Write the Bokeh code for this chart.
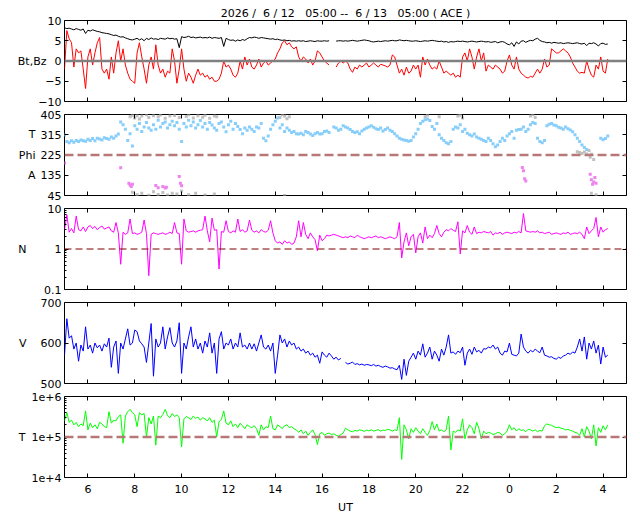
import numpy as np
from bokeh.plotting import figure
from bokeh.layouts import column
from bokeh.models import (Range1d, FixedTicker, LinearAxis, LogAxis, Span,
                          BasicTickFormatter, CustomJSTickFormatter)
from bokeh.embed import file_html
from bokeh.resources import INLINE

nan = float("nan")

# ---------------- data (0.1 h samples from 05:00 UT) ----------------
bt = [
 8.2, 8.0, 8.1, 7.9, 7.7, 8.0, 7.8, 7.6, 7.9, 6.8,
 7.6, 7.4, 7.7, 7.5, 7.3, 7.2, 7.0, 6.9, 6.8, 6.7,
 6.5, 6.3, 6.4, 6.1, 5.9, 6.0, 5.7, 5.5, 5.3, 5.2,
 5.4, 5.6, 5.2, 5.5, 5.0, 5.6, 5.3, 5.7, 5.4, 5.5,
 5.3, 5.6, 5.5, 5.4, 5.7, 5.5, 5.6, 5.4, 5.5, 3.3,
 6.0, 5.8, 5.9, 6.1, 5.8, 5.9, 5.7, 5.8, 5.9, 5.7,
 5.8, 5.7, 5.9, 5.6, 5.8, 5.7, 5.6, 5.8, 3.6, 5.6,
 5.3, 5.1, 5.2, 4.9, 5.2, 5.0, 5.3, 5.1, 5.5, 5.8,
 5.7, 5.9, 5.8, 5.6, 5.8, 5.7, 5.6, 5.5, 5.4, 5.5,
 5.3, 5.4, 5.2, 5.1, 5.2, 5.0, 5.1, 4.9, 5.0, 4.9,
 5.0, 4.9, 5.0, 4.8, 4.9, 5.0, 4.9, 4.8, 5.0, 4.9,
 4.9, 5.0, 4.9, 5.0, nan, nan, 4.9, 5.0, 5.0, 4.9,
 5.0, 4.9, 5.0, 5.1, 5.0, 4.9, 5.0, 5.1, 5.2, 5.1,
 5.0, 4.8, 4.7, 4.8, 4.9, 4.8, 4.9, 5.0, 4.9, 5.0,
 5.1, 5.0, 5.0, 5.2, 5.1, 5.0, 5.1, 5.0, 4.9, 4.9,
 5.0, 4.9, 4.8, 4.9, 5.0, 4.9, 5.0, 5.1, 5.0, 4.9,
 4.8, 4.9, 4.7, 4.8, 4.6, 4.8, 4.7, 4.8, 4.9, 4.8,
 4.9, 4.8, 4.7, 4.8, 4.9, 4.8, 4.7, 4.8, 4.9, 4.8,
 4.7, 4.8, 4.6, 4.7, 4.8, 4.5, 4.7, 4.8, 4.6, 4.2,
 4.0, 4.5, 3.6, 4.7, 4.2, 4.9, 5.0, 4.6, 4.9, 5.1,
 5.0, 5.4, 5.6, 5.1, 4.8, 4.7, 4.5, 4.6, 4.4, 4.6,
 4.5, 4.4, 4.5, 4.3, 4.4, 4.5, 4.4, 4.3, 4.4, 4.5,
 4.3, 4.2, 4.4, 3.8, 4.4, 4.3, 4.5, 4.2, 3.7, 4.3,
 4.4, 4.1, 4.2,
]

bz = [
 -2, 7.5, 5.5, 4.5, -1.5, 3, 2, 2.5, -2, -6.8,
 1, 3, -1, 2, 4.5, 5.8, -2, -3, -2, -4.5,
 1, -3, 2, 5, 0, 3, -1, -3, -4.5, -5,
 -5.5, 2, 4.5, 1, -2, -5.5, -1, 1, -2, 4,
 -1, -3, -2, -4, -2.5, -3, 3, 0, -5.5, -2,
 3, -2, -5, -3, -4, -5.5, -3.5, -2, -3.5, -3,
 -4, -3.5, -4.5, -4, -5, -5, -4.5, -3, 0, -1.5,
 -1, -2, -3.5, -4, -3, 0, -2, 1, -1, 0.5,
 -1.5, -2, -1, 0.5, -1.5, -0.5, 0, -1, -0.5, 0,
 0.5, 2, 3, 4.5, 5, 4, 4.5, 3.5, 3, 3.5,
 1, 0, 1, 0.5, -0.5, 0.5, -1, 0, 2.5, 2,
 1, 0, -0.5, -1, nan, nan, -1.5, -0.5, 0, -0.5,
 0, -0.5, -2, -2.8, -1.5, -2, -1, -1.5, -1, -0.5,
 -1.5, -1, -0.5, -1, -1.5, -0.8, -1, -1.2, -1.5, -1,
 1.5, 1, -1, -3, -2, -3.5, -1.5, -3, -2.5, -1,
 -2, -1, -4, 1, -1, 0.5, -1, -2, -1.5, -2,
 0, -1.5, -3, -2.5, -3, -3.5, -3, -4, -3.5, -4,
 1, 2, 0, 3, 1, -2, 1, 3, 0, 2,
 -2.5, -1, -1.5, -2, -1, -1.5, -2, -3, -2.5, 0,
 1.5, -1, -2, 1, -2, -3, -3.5, -4, -4.2, -3.8,
 -4, -3, -2, -3, -2, 0.5, -1.5, -1, 3, 2.5,
 2, 2, 2.5, 3, 2.5, 2, 1, -0.5, -1.5, -2.5,
 -3, -2.8, -3, 0, -2, -3.5, -4, -1, -2, 1,
 -2.5, -3, 0.5,
]

theta = [
 314, 285, 280, 288, 282, 290, 285, 292, 288, 286,
 295, 290, 298, 288, 300, 296, 292, 302, 298, 295,
 305, 300, 310, 318, 372, 360, 340, 290, 320, 265,
 355, 340, 365, 330, 350, 370, 345, 335, 360, 340,
 380, 350, 365, 372, 345, 360, 375, 355, 370, 340,
 285, 365, 350, 380, 355, 372, 345, 360, 378, 350,
 365, 340, 370, 358, 345, 335, 365, 372, 350, 328,
 360, 375, 340, 365, 352, 338, 320, 345, 335, 350,
 340, 330, 350, 345, 365, 300, 288, 310, 340, 360,
 375, 390, 345, 360, 330, 345, 335, 325, 330, 320,
 318, 322, 315, 330, 325, 318, 312, 320, 325, 318,
 320, 330, 332, 325, nan, 350, 345, 335, 340, 355,
 350, 345, 338, 330, 325, 328, 320, 332, 340, 345,
 350, 355, 348, 342, 338, 345, 332, 338, 345, 335,
 330, 320, 310, 300, 295, 292, 290, 286, 290, 305,
 320, 340, 365, 375, 382, 385, 378, 352, 340, 365,
 315, 300, 290, 280, 275, 285, 340, 350, 345, 360,
 330, 340, 322, 315, 310, 318, 305, 300, 295, 290,
 285, 300, 290, 275, 262, 270, 285, 300, 290, 310,
 320, 330, 300, 335, 338, 340, 350, 330, 340, 360,
 370, 365, 300, 285, 280, 290, 355, 362, 365, 358,
 355, 348, 345, 340, 350, 342, 336, 328, 315, 300,
 285, 270, 258, 250, nan, nan, nan, nan, nan, 300,
 293, 298, 310,
]

gray_t = [7.8, 7.9, 8.0, 8.1, 8.2, 8.3, 8.5, 8.6, 8.8, 9.0, 9.1, 9.3, 9.5, 9.7, 9.9,
          10.2, 10.3, 10.5, 10.7, 10.9, 11.0, 11.2, 11.4, 11.5, 14.2, 14.3, 14.4, 14.5,
          14.6, 20.4, 20.5, 21.0, 21.8, 21.9, 22.0, 24.9, 25.0, 25.1,
          7.9, 8.1, 8.3, 8.6, 8.8, 9.0, 9.2, 9.4, 9.6, 9.8, 10.0, 10.3, 10.6, 11.0,
          11.4, 14.4, 27.5, 27.7,
          26.9, 27.0, 27.1, 27.2, 27.3, 27.4, 27.5, 27.45, 27.6]
gray_v = [395, 402, 390, 400, 385, 398, 404, 392, 400, 395, 403, 388, 398, 401, 392,
          396, 404, 390, 400, 393, 402, 388, 398, 395, 392, 404, 398, 386,
          395, 395, 402, 395, 398, 403, 390, 398, 405, 392,
          60, 48, 55, 46, 62, 50, 58, 47, 55, 52, 65, 48, 55, 47,
          52, 45, 55, 48,
          240, 236, 232, 238, 230, 245, 228, 215, 205]

mag_t = [5.0, 7.4, 7.75, 7.8, 7.85, 7.9, 8.9, 9.0, 9.2, 9.3, 9.35, 9.9, 9.95, 10.0,
         24.55, 24.6, 24.65, 24.7, 27.45, 27.5, 27.55, 27.6, 27.65, 27.7]
mag_v = [190, 168, 100, 92, 85, 95, 90, 80, 85, 78, 82, 130, 100, 88,
         170, 155, 120, 110, 140, 115, 95, 105, 125, 100]

dens = [
 3.0, 7.0, 2.6, 3.2, 2.5, 6.5, 3.0, 2.8, 3.5, 2.7,
 3.5, 3.8, 3.2, 3.6, 3.0, 3.4, 3.7, 3.1, 3.3, 3.5,
 2.8, 2.6, 4.5, 2.5, 0.42, 2.6, 2.3, 2.5, 5.5, 2.4,
 2.5, 2.3, 2.4, 2.6, 5.2, 2.4, 0.22, 2.3, 2.5, 2.4,
 2.3, 2.4, 2.5, 2.3, 2.4, 2.6, 2.4, 4.5, 2.5, 2.4,
 0.42, 5.5, 2.8, 2.6, 2.7, 2.8, 2.6, 2.8, 2.9, 3.0,
 6.5, 2.8, 1.5, 5.8, 2.9, 3.0, 0.32, 2.7, 2.6, 5.0,
 2.7, 2.5, 2.8, 2.6, 5.5, 2.7, 3.0, 2.6, 2.8, 5.2,
 2.9, 2.6, 2.8, 2.5, 3.0, 2.7, 2.6, 2.9, 5.0, 2.5,
 1.6, 1.4, 1.5, 1.3, 1.6, 1.4, 1.5, 1.3, 1.4, 2.0,
 5.0, 2.0, 4.5, 2.3, 1.8, 2.5, 2.0, 1.7, 0.9, 2.2,
 1.6, 1.8, 2.2, 2.1, 2.2, 2.3, 2.2, 2.1, 2.0, 1.9,
 2.0, 1.9, 2.1, 2.0, 1.9, 2.2, 2.0, 1.9, 1.8, 1.9,
 2.0, 1.9, 2.0, 2.1, 1.9, 2.0, 1.9, 1.8, 1.9, 2.0,
 1.9, 1.8, 2.0, 4.5, 0.6, 1.5, 2.5, 1.2, 2.0, 2.3,
 0.8, 2.0, 2.5, 1.4, 3.5, 1.8, 2.2, 1.9, 2.4, 3.8,
 2.4, 2.0, 2.6, 3.0, 2.8, 3.2, 2.9, 2.7, 4.7, 0.75,
 2.8, 2.5, 3.8, 2.6, 2.3, 3.5, 2.4, 2.6, 2.5, 2.7,
 2.6, 2.5, 2.7, 2.2, 2.5, 2.4, 2.6, 2.3, 2.5, 2.6,
 2.5, 2.4, 2.6, 2.5, 2.7, 2.5, 7.5, 2.8, 2.7, 2.6,
 2.7, 2.6, 2.8, 2.5, 2.6, 2.4, 2.5, 2.6, 2.3, 2.4,
 2.5, 2.4, 2.3, 2.5, 2.4, 2.6, 2.3, 2.4, 2.5, 2.4,
 2.6, 2.3, 1.8, 3.5, 2.4, 2.8, 3.2, 6.0, 2.0, 3.5,
 2.6, 3.0, 3.2,
]

speed = [
 570, 660, 612, 618, 585, 600, 555, 595, 580, 640,
 585, 595, 575, 600, 588, 595, 580, 598, 590, 612,
 540, 590, 605, 525, 600, 585, 610, 635, 595, 600,
 632, 628, 605, 598, 590, 552, 600, 648, 518, 610,
 590, 600, 640, 585, 615, 638, 600, 590, 605, 650,
 525, 600, 585, 615, 640, 590, 610, 585, 600, 575,
 605, 590, 625, 575, 600, 525, 610, 628, 585, 600,
 595, 610, 585, 600, 590, 625, 590, 595, 585, 600,
 585, 598, 580, 600, 620, 590, 585, 595, 580, 600,
 525, 570, 620, 600, 610, 590, 605, 595, 600, 585,
 590, 580, 585, 575, 580, 570, 575, 565, 570, 550,
 578, 570, 565, 575, 568, 560, 565, 558, 562, nan,
 552, 548, 550, 553, 547, 549, 546, 548, 545, 547,
 546, 544, 547, 543, 545, 542, 540, 543, 541, 538,
 539, 536, 534, 545, 510, 560, 520, 555, 565, 575,
 560, 580, 570, 598, 565, 575, 590, 560, 580, 570,
 555, 585, 570, 590, 620, 575, 578, 572, 580, 576,
 590, 545, 575, 585, 572, 590, 578, 582, 575, 586,
 585, 590, 588, 595, 585, 590, 575, 570, 580, 578,
 600, 572, 570, 568, 575, 622, 590, 580, 575, 582,
 578, 585, 580, 576, 590, 570, 568, 565, 566, 562,
 560, 565, 562, 568, 570, 575, 572, 578, 575, 590,
 610, 580, 615, 560, 600, 585, 605, 575, 595, 548,
 590, 565, 570,
]

temp_kK = [
 250, 400, 230, 260, 200, 230, 180, 210, 190, 440,
 150, 220, 170, 200, 160, 230, 210, 180, 170, 420,
 220, 260, 250, 320, 350, 70, 330, 420, 480, 400,
 350, 180, 400, 350, 380, 100, 300, 210, 330, 63,
 330, 300, 360, 480, 340, 300, 380, 320, 350, 300,
 57, 280, 320, 300, 270, 330, 290, 310, 260, 300,
 280, 250, 300, 230, 260, 100, 240, 270, 440, 220,
 200, 250, 180, 210, 170, 220, 190, 160, 200, 180,
 170, 190, 160, 110, 200, 150, 180, 170, 330, 160,
 150, 200, 180, 160, 190, 200, 170, 180, 160, 150,
 130, 150, 120, 140, 110, 130, 150, 115, 65, 120,
 130, 110, 120, 125, 115, 120, 110, 105, 115, 125,
 165, 150, 140, 135, 145, 140, 150, 145, 138, 148,
 142, 150, 140, 146, 152, 140, 148, 145, 155, 150,
 140, 150, 145, 300, 28, 200, 150, 90, 160, 130,
 170, 140, 120, 160, 130, 110, 145, 240, 150, 210,
 140, 150, 135, 150, 330, 48, 140, 130, 150, 140,
 280, 90, 150, 200, 170, 120, 230, 160, 90, 140,
 120, 130, 125, 115, 120, 130, 125, 110, 120, 140,
 200, 150, 170, 140, 160, 145, 150, 135, 155, 150,
 140, 150, 135, 145, 140, 190, 210, 200, 195, 180,
 170, 175, 165, 160, 150, 155, 145, 140, 130, 125,
 110, 160, 100, 180, 140, 90, 200, 60, 170, 130,
 190, 150, 200,
]

x_ticks = [6, 8, 10, 12, 14, 16, 18, 20, 22, 24, 26, 28]
# runs of spaces kept with no-break spaces so the SVG text keeps its spacing
title_text = "2026 /\u00a0 6 / 12\u00a0\u00a0 05:00 --\u00a0 6 / 13\u00a0\u00a0 05:00 ( ACE )"

FONT = "DejaVu Sans"
FS = "11px"
FRAME_W = 562
FRAME_H = 81
LEFT = 64
X0, X1 = 5, 29


def hrs(n):
    return 5.0 + 0.1 * np.arange(n)


x_range = Range1d(X0, X1)


def mirror_axis(kind, values):
    # tick marks only (drawn as minor ticks, so that no labels are produced)
    ax = kind(ticker=FixedTicker(ticks=[], minor_ticks=values))
    ax.axis_line_color = None
    ax.major_tick_line_color = None
    ax.minor_tick_in = 4
    ax.minor_tick_out = 0
    ax.minor_tick_line_color = "black"
    ax.major_label_standoff = 0
    return ax


def name_axis(kind, positions, names, standoff):
    # the panel's horizontal y-labels, set as tick labels of an outer left axis
    ax = kind(ticker=FixedTicker(ticks=positions),
              major_label_overrides=dict(zip(positions, names)))
    ax.axis_line_color = None
    ax.major_tick_line_color = None
    ax.minor_tick_line_color = None
    ax.major_tick_in = 0
    ax.major_tick_out = 0
    ax.major_label_standoff = standoff
    ax.major_label_text_font = FONT
    ax.major_label_text_font_size = FS
    ax.major_label_text_color = "black"
    return ax


def panel(y_start, y_end, y_ticks, top, bottom, names, name_pos, name_standoff,
          log=False, minor_ticks=None, formatter=None, xlabels=False):
    p = figure(frame_width=FRAME_W, frame_height=FRAME_H, x_range=x_range,
               y_range=Range1d(y_start, y_end), y_axis_type="log" if log else "linear",
               toolbar_location=None, output_backend="svg",
               min_border_left=LEFT, min_border_right=12, min_border_top=top,
               min_border_bottom=bottom, x_axis_location=None, y_axis_location=None)
    p.grid.visible = False
    p.outline_line_color = "black"
    p.outline_line_alpha = 1.0
    p.outline_line_width = 1
    p.background_fill_color = "white"
    p.border_fill_color = "white"

    Ax = LogAxis if log else LinearAxis
    left = Ax(ticker=FixedTicker(ticks=y_ticks, minor_ticks=minor_ticks or []),
              formatter=formatter or BasicTickFormatter())
    left.axis_line_color = None
    left.major_tick_in = 4
    left.major_tick_out = 0
    left.major_tick_line_color = "black"
    if minor_ticks:
        left.minor_tick_in = 2
        left.minor_tick_out = 0
        left.minor_tick_line_color = "black"
    else:
        left.minor_tick_line_color = None
    left.major_label_standoff = 3
    left.major_label_text_font = FONT
    left.major_label_text_font_size = FS
    left.major_label_text_color = "black"
    p.add_layout(left, "left")
    p.add_layout(name_axis(Ax, name_pos, names, name_standoff), "left")
    p.add_layout(mirror_axis(Ax, y_ticks), "right")
    p.add_layout(mirror_axis(LinearAxis, x_ticks), "above")

    if xlabels:
        bot = LinearAxis(ticker=FixedTicker(ticks=x_ticks),
                         formatter=CustomJSTickFormatter(code="return String(tick % 24);"))
        bot.axis_line_color = None
        bot.major_tick_in = 4
        bot.major_tick_out = 0
        bot.major_tick_line_color = "black"
        bot.minor_tick_line_color = None
        bot.major_label_standoff = 7
        bot.major_label_text_font = FONT
        bot.major_label_text_font_size = FS
        bot.major_label_text_color = "black"
        bot.axis_label = "UT"
        bot.axis_label_standoff = 5
        bot.axis_label_text_font = FONT
        bot.axis_label_text_font_size = FS
        bot.axis_label_text_font_style = "normal"
        bot.axis_label_text_color = "black"
        p.add_layout(bot, "below")
    else:
        p.add_layout(mirror_axis(LinearAxis, x_ticks), "below")
    return p


# Panel 1: Bt, Bz
p1 = panel(-10, 10, [-10, -5, 0, 5, 10], 20, 7, ["Bt,Bz"], [0], -11)
p1.title.text = title_text
p1.title.align = "center"
p1.title.text_font = FONT
p1.title.text_font_size = FS
p1.title.text_font_style = "normal"
p1.title.text_color = "black"
p1.title.standoff = 1
p1.line(hrs(len(bz)), bz, line_color="#ff0000", line_width=1)
p1.line(hrs(len(bt)), bt, line_color="black", line_width=1)
p1.add_layout(Span(location=0, dimension="width", line_color="#808080", line_width=2.5))

# Panel 2: Theta / Phi / A
p2 = panel(45, 405, [45, 135, 225, 315, 405], 6, 7, ["A", "Phi", "T"], [135, 225, 315], 2)
p2.add_layout(Span(location=225, dimension="width", line_color="#b87878", line_width=2.5,
                   line_dash="9 4"))
p2.scatter(gray_t, gray_v, marker="square", size=3, fill_color="#c0c0c0", line_color=None)
p2.scatter(hrs(len(theta)), theta, marker="square", size=3, fill_color="#87cefa", line_color=None)
p2.scatter(mag_t, mag_v, marker="square", size=3, fill_color="#ee82ee", line_color=None)

# Panel 3: N (log)
n_minor = [0.2, 0.3, 0.4, 0.5, 0.6, 0.7, 0.8, 0.9, 2, 3, 4, 5, 6, 7, 8, 9]
p3 = panel(0.1, 10, [0.1, 1, 10], 6, 7, ["N"], [1], 15, log=True, minor_ticks=n_minor)
p3.add_layout(Span(location=1, dimension="width", line_color="#800000", line_width=1.2,
                   line_dash="7 4"))
p3.line(hrs(len(dens)), dens, line_color="#ff00ff", line_width=1)

# Panel 4: V
p4 = panel(500, 700, [500, 600, 700], 6, 7, ["V"], [600], 11)
p4.line(hrs(len(speed)), speed, line_color="#0000ff", line_width=1)

# Panel 5: T (log)
t_minor = [2e4, 3e4, 4e4, 5e4, 6e4, 7e4, 8e4, 9e4, 2e5, 3e5, 4e5, 5e5, 6e5, 7e5, 8e5, 9e5]
p5 = panel(1e4, 1e6, [1e4, 1e5, 1e6], 6, 35, ["T"], [1e5], 3, log=True, minor_ticks=t_minor,
           formatter=CustomJSTickFormatter(code="return tick.toExponential(0);"), xlabels=True)
p5.add_layout(Span(location=1e5, dimension="width", line_color="#b87878", line_width=2.5,
                   line_dash="9 4"))
p5.line(hrs(len(temp_kK)), np.array(temp_kK, dtype=float) * 1e3, line_color="#00ff00", line_width=1)

layout = column(p1, p2, p3, p4, p5, spacing=0)
open("out.html", "w").write(file_html(layout, INLINE))
